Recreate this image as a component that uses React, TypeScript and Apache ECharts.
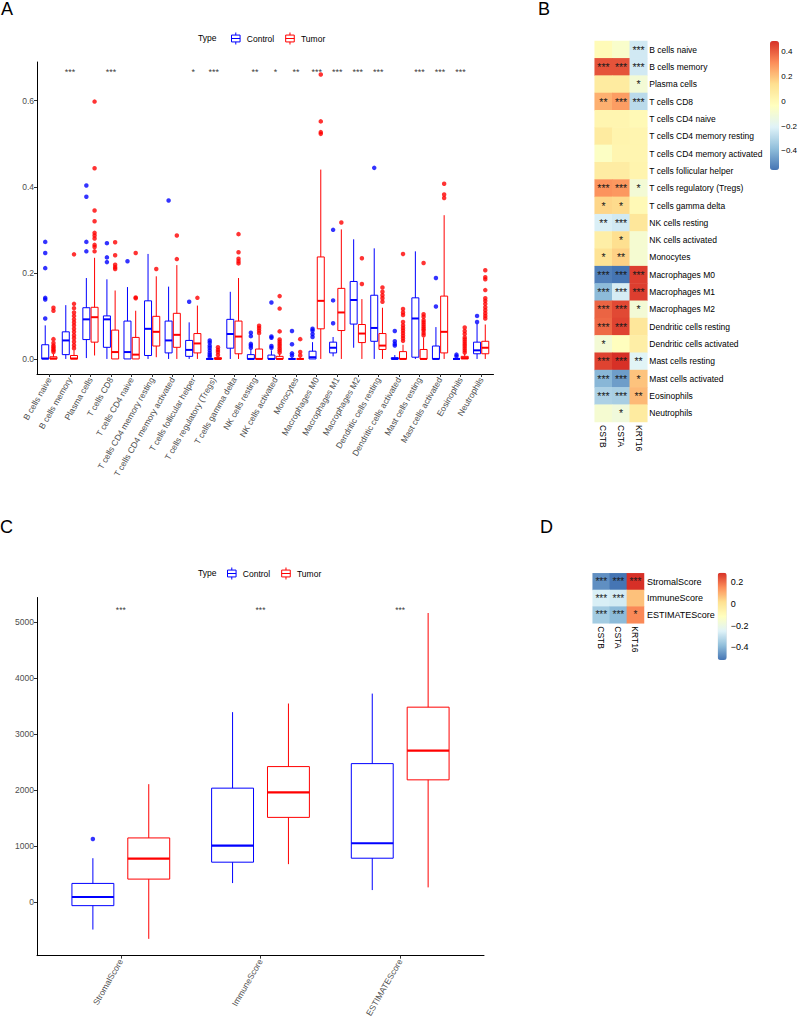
import { useEffect, useRef } from "react";
import * as echarts from "echarts";

// ---------- Panel A: immune cell fractions ----------
const cellTypes = [
  "B cells naive", "B cells memory", "Plasma cells", "T cells CD8", "T cells CD4 naive",
  "T cells CD4 memory resting", "T cells CD4 memory activated", "T cells follicular helper",
  "T cells regulatory (Tregs)", "T cells gamma delta", "NK cells resting", "NK cells activated",
  "Monocytes", "Macrophages M0", "Macrophages M1", "Macrophages M2", "Dendritic cells resting",
  "Dendritic cells activated", "Mast cells resting", "Mast cells activated", "Eosinophils", "Neutrophils",
];

// [lower whisker, Q1, median, Q3, upper whisker]
const cellControlStats = [
  [0, 0, 0.001, 0.033, 0.078],
  [0, 0.01, 0.043, 0.063, 0.125],
  [0.002, 0.045, 0.092, 0.119, 0.188],
  [0, 0.027, 0.092, 0.1, 0.185],
  [0, 0, 0.016, 0.088, 0.167],
  [0, 0.008, 0.07, 0.135, 0.244],
  [0, 0.014, 0.043, 0.088, 0.168],
  [0, 0.006, 0.021, 0.043, 0.085],
  [0, 0, 0, 0, 0],
  [0, 0.025, 0.058, 0.092, 0.156],
  [0, 0, 0, 0.01, 0.022],
  [0, 0, 0, 0.009, 0.02],
  [0, 0, 0, 0, 0.004],
  [0, 0, 0.004, 0.018, 0.039],
  [0.006, 0.014, 0.026, 0.039, 0.051],
  [0.026, 0.081, 0.137, 0.18, 0.278],
  [0, 0.041, 0.072, 0.148, 0.257],
  [0, 0, 0, 0.003, 0.009],
  [0, 0.004, 0.094, 0.142, 0.25],
  [0, 0, 0, 0.03, 0.074],
  [0, 0, 0, 0, 0.002],
  [0, 0.012, 0.02, 0.039, 0.082],
];
const cellTumorStats = [
  [0, 0, 0.001, 0.005, 0.012],
  [0, 0, 0.001, 0.008, 0.02],
  [0.008, 0.039, 0.097, 0.12, 0.235],
  [0, 0, 0.016, 0.067, 0.159],
  [0, 0, 0.01, 0.05, 0.112],
  [0.004, 0.03, 0.063, 0.099, 0.192],
  [0, 0.027, 0.056, 0.106, 0.218],
  [0, 0.014, 0.036, 0.059, 0.124],
  [0, 0, 0, 0.003, 0.006],
  [0, 0.012, 0.052, 0.088, 0.188],
  [0, 0, 0, 0.023, 0.055],
  [0, 0, 0, 0.006, 0.012],
  [0, 0, 0, 0, 0.004],
  [0, 0.07, 0.135, 0.237, 0.44],
  [0, 0.066, 0.108, 0.164, 0.301],
  [0, 0.038, 0.059, 0.08, 0.139],
  [0, 0.022, 0.031, 0.059, 0.119],
  [0, 0, 0, 0.017, 0.033],
  [0, 0, 0, 0.022, 0.05],
  [0, 0.014, 0.063, 0.146, 0.334],
  [0, 0, 0.002, 0.006, 0.012],
  [0, 0.012, 0.026, 0.041, 0.08],
];
const cellControlOutliers = [
  [0.094, 0.138, 0.142, 0.211, 0.246, 0.272],
  [],
  [0.25, 0.272, 0.377, 0.403],
  [0.225, 0.236, 0.269],
  [0.227],
  [],
  [0.368],
  [0.133],
  [0.005, 0.009, 0.014, 0.02, 0.026, 0.031, 0.038, 0.043],
  [],
  [0.026, 0.031, 0.035, 0.053, 0.061],
  [0.026, 0.03, 0.049, 0.052, 0.131],
  [0.008, 0.013, 0.034, 0.065],
  [0.051, 0.058, 0.066, 0.07],
  [0.083, 0.136, 0.3],
  [],
  [0.444],
  [0.031, 0.035, 0.041, 0.065],
  [],
  [0.122, 0.188],
  [0.006, 0.01],
  [0.086, 0.1],
];
const cellTumorOutliers = [
  [0.016, 0.02, 0.023, 0.027, 0.031, 0.037, 0.046, 0.112, 0.119],
  [0.025, 0.032, 0.04, 0.048, 0.055, 0.063, 0.07, 0.078, 0.085, 0.092, 0.1, 0.108, 0.118, 0.128, 0.243],
  [0.25, 0.26, 0.265, 0.28, 0.287, 0.293, 0.32, 0.345, 0.443, 0.598],
  [0.209, 0.213, 0.219, 0.241, 0.271],
  [0.141, 0.143, 0.246],
  [0.209],
  [0.232, 0.287],
  [0.142],
  [0.009, 0.016, 0.021, 0.027],
  [0.222, 0.227, 0.233, 0.248, 0.29],
  [0.06, 0.066, 0.072, 0.077],
  [0.015, 0.02, 0.025, 0.03, 0.035, 0.04, 0.045, 0.064, 0.117, 0.146],
  [0.008, 0.016, 0.046],
  [0.523, 0.527, 0.552, 0.661],
  [0.317],
  [0.174, 0.234],
  [0.133, 0.141, 0.148, 0.156, 0.166],
  [0.042, 0.048, 0.054, 0.06, 0.066, 0.072, 0.078, 0.086, 0.102, 0.108, 0.116, 0.244],
  [0.055, 0.06, 0.066, 0.07, 0.075, 0.08, 0.085, 0.09, 0.098, 0.104, 0.223],
  [0.374, 0.382, 0.407],
  [0.015, 0.02, 0.025, 0.03, 0.035, 0.04, 0.045, 0.05, 0.058, 0.065, 0.073],
  [0.094, 0.1, 0.106, 0.113, 0.12, 0.128, 0.135, 0.141, 0.16, 0.185, 0.19, 0.206],
];
const cellStars = [
  "", "***", "", "***", "", "", "", "*", "***", "", "**",
  "*", "**", "***", "***", "***", "***", "", "***", "***", "***", "",
];
const cellTicks = [0, 0.2, 0.4, 0.6];
const cellStarLevel = 0.666;

// ---------- Panel C: ESTIMATE scores ----------
const scoreNames = ["StromalScore", "ImmuneScore", "ESTIMATEScore"];
const scoreControlStats = [
  [-492, -65, 89, 332, 782],
  [338, 711, 1007, 2033, 3390],
  [213, 782, 1049, 2471, 3721],
];
const scoreTumorStats = [
  [-658, 409, 776, 1144, 2104],
  [676, 1511, 1956, 2418, 3544],
  [261, 2181, 2702, 3479, 5160],
];
const scoreControlOutliers = [[1126], [], []];
const scoreTumorOutliers: number[][] = [[], [], []];
const scoreStars = ["***", "***", "***"];
const scoreTicks = [0, 1000, 2000, 3000, 4000, 5000];
const scoreStarLevel = 5210;

// ---------- Panels B and D: correlation heatmaps ----------
const genes = ["CSTB", "CSTA", "KRT16"];
const cellCorr = [
  [-0.01, -0.07, -0.24],
  [0.42, 0.42, -0.24],
  [0.08, 0.08, -0.1],
  [0.24, 0.28, -0.29],
  [0.02, 0.02, 0.0],
  [0.08, 0.03, 0.02],
  [-0.05, 0.02, 0.02],
  [0.07, 0.07, 0.03],
  [0.3, 0.29, -0.1],
  [0.16, 0.15, 0.0],
  [-0.22, -0.24, 0.1],
  [0.06, 0.14, -0.09],
  [0.12, 0.17, -0.09],
  [-0.53, -0.554, 0.46],
  [-0.39, -0.23, 0.46],
  [0.39, 0.44, -0.1],
  [0.38, 0.45, 0.1],
  [-0.1, -0.03, 0.06],
  [0.45, 0.486, -0.2],
  [-0.4, -0.46, 0.2],
  [-0.32, -0.33, 0.22],
  [-0.09, -0.12, 0.08],
];
const cellCorrStars = [
  ["", "", "***"],
  ["***", "***", "***"],
  ["", "", "*"],
  ["**", "***", "***"],
  ["", "", ""],
  ["", "", ""],
  ["", "", ""],
  ["", "", ""],
  ["***", "***", "*"],
  ["*", "*", ""],
  ["**", "***", ""],
  ["", "*", ""],
  ["*", "**", ""],
  ["***", "***", "***"],
  ["***", "***", "***"],
  ["***", "***", "*"],
  ["***", "***", ""],
  ["*", "", ""],
  ["***", "***", "**"],
  ["***", "***", "*"],
  ["***", "***", "**"],
  ["", "*", ""],
];
const scoreCorr = [
  [-0.47, -0.517, 0.288],
  [-0.26, -0.27, 0.07],
  [-0.35, -0.39, 0.16],
];
const scoreCorrStars = [
  ["***", "***", "***"],
  ["***", "***", ""],
  ["***", "***", "*"],
];
const cellCorrRange = [-0.554, 0.486];
const scoreCorrRange = [-0.517, 0.288];
const cellCorrTicks = [-0.4, -0.2, 0, 0.2, 0.4];
const scoreCorrTicks = [-0.4, -0.2, 0, 0.2];

const palette = ["#4575B4", "#91BFDB", "#E0F3F8", "#FFFFBF", "#FEE090", "#FC8D59", "#D73027"];
const CONTROL = "#0000FF";
const TUMOR = "#FF0000";
const FONT = "Liberation Sans, Arial, sans-serif";
const AXIS_TEXT = "#4D4D4D";
const BOX_ICON = "path://M6,0V3M1,3H11V11H1ZM1,7H11M6,11V14";

const boxRenderer = (color: string, widthUnits: number, medianWidth: number) =>
  (_params: any, api: any) => {
    const x = api.value(0);
    const lo = api.coord([x, api.value(1)]);
    const q1 = api.coord([x, api.value(2)]);
    const md = api.coord([x, api.value(3)]);
    const q3 = api.coord([x, api.value(4)]);
    const hi = api.coord([x, api.value(5)]);
    const half = api.size([widthUnits, 0])[0] / 2;
    const cx = q1[0];
    const line = { stroke: color, lineWidth: 1 };
    return {
      type: "group",
      children: [
        { type: "line", shape: { x1: cx, y1: q3[1], x2: cx, y2: hi[1] }, style: line },
        { type: "line", shape: { x1: cx, y1: q1[1], x2: cx, y2: lo[1] }, style: line },
        {
          type: "rect",
          shape: { x: cx - half, y: q3[1], width: half * 2, height: q1[1] - q3[1] },
          style: { stroke: color, fill: "rgba(255,255,255,0)", lineWidth: 1 },
        },
        {
          type: "line",
          shape: { x1: cx - half, y1: md[1], x2: cx + half, y2: md[1] },
          style: { stroke: color, lineWidth: medianWidth },
        },
      ],
    };
  };

const boxSeries = (name: string, stats: number[][], shift: number, axis: number, color: string, w: number, mw: number) => ({
  name,
  type: "custom",
  xAxisIndex: axis,
  yAxisIndex: axis,
  renderItem: boxRenderer(color, w, mw),
  encode: { x: 0, y: [1, 2, 3, 4, 5] },
  data: stats.map((s, i) => [i + shift, ...s]),
  silent: true,
});

const outlierSeries = (name: string, outs: number[][], shift: number, axis: number, color: string, size: number) => ({
  name,
  type: "scatter",
  xAxisIndex: axis,
  yAxisIndex: axis,
  symbolSize: size,
  itemStyle: { color },
  data: outs.flatMap((list, i) => list.map((v) => [i + shift, v])),
  silent: true,
});

const starSeries = (stars: string[], level: number, axis: number, size: number) => ({
  type: "scatter",
  xAxisIndex: axis,
  yAxisIndex: axis,
  symbolSize: 0.1,
  itemStyle: { color: "rgba(0,0,0,0)" },
  label: { show: true, position: "inside", formatter: "{b}", fontSize: size, color: "#000", fontFamily: FONT },
  data: stars.map((s, i) => ({ name: s, value: [i, level] })).filter((d) => d.name !== ""),
  silent: true,
});

const minus = (v: number) => String(Math.round(v * 10) / 10).replace("-", "\u2212");

const boxXAxis = (grid: number, names: string[], fontSize: number) => ({
  type: "value",
  gridIndex: grid,
  min: -0.6,
  max: names.length - 0.4,
  axisLine: { show: true, onZero: false, lineStyle: { color: "#000", width: 1 } },
  axisTick: { show: true, length: 3, customValues: names.map((_, i) => i), lineStyle: { color: "#333" } },
  axisLabel: {
    customValues: names.map((_, i) => i),
    rotate: 60,
    fontSize,
    color: AXIS_TEXT,
    fontFamily: FONT,
    margin: 4,
    formatter: (v: number) => names[Math.round(v)] ?? "",
  },
  splitLine: { show: false },
});

const boxYAxis = (grid: number, min: number, max: number, ticks: number[], fmt: (v: number) => string) => ({
  type: "value",
  gridIndex: grid,
  min,
  max,
  axisLine: { show: true, onZero: false, lineStyle: { color: "#000", width: 1 } },
  axisTick: { show: true, length: 3, customValues: ticks, lineStyle: { color: "#333" } },
  axisLabel: { customValues: ticks, fontSize: 8.5, color: AXIS_TEXT, fontFamily: FONT, margin: 3, formatter: fmt },
  splitLine: { show: false },
});

const heatData = (m: number[][]) => m.flatMap((row, r) => row.map((v, c) => [c, r, v]));

export default function App() {
  const ref = useRef<HTMLDivElement>(null);

  useEffect(() => {
    if (!ref.current) return;
    const chart = echarts.init(ref.current, undefined, { renderer: "svg" });

    const legendData = (size: number) => [
      { name: "Control", icon: BOX_ICON, itemStyle: { color: "rgba(0,0,0,0)", borderColor: CONTROL, borderWidth: 1 } },
      { name: "Tumor", icon: BOX_ICON, itemStyle: { color: "rgba(0,0,0,0)", borderColor: TUMOR, borderWidth: 1 } },
    ].map((d) => ({ ...d, textStyle: { fontSize: size } }));

    const option: any = {
      animation: false,
      backgroundColor: "#fff",
      textStyle: { fontFamily: FONT },
      grid: [
        { left: 37, top: 62, width: 456.5, height: 312 },
        { left: 37, top: 597.5, width: 447, height: 380.5 },
        { left: 594.7, top: 41, width: 52.6, height: 381 },
        { left: 592.7, top: 573.3, width: 51.3, height: 50 },
        { left: 770, top: 41, width: 9, height: 129 },
        { left: 717.7, top: 572.7, width: 9, height: 87.3 },
      ],
      xAxis: [
        boxXAxis(0, cellTypes, 8.5),
        boxXAxis(1, scoreNames, 8.5),
        {
          type: "category", gridIndex: 2, data: genes, position: "bottom",
          axisLine: { show: false }, axisTick: { show: false },
          axisLabel: { rotate: -90, margin: 3, fontSize: 8.5, color: "#000", fontFamily: FONT },
        },
        {
          type: "category", gridIndex: 3, data: genes, position: "bottom",
          axisLine: { show: false }, axisTick: { show: false },
          axisLabel: { rotate: -90, margin: 3, fontSize: 8.5, color: "#000", fontFamily: FONT },
        },
        { type: "value", gridIndex: 4, show: false, min: 0, max: 1 },
        { type: "value", gridIndex: 5, show: false, min: 0, max: 1 },
      ],
      yAxis: [
        boxYAxis(0, -0.035, 0.69, cellTicks, (v) => v.toFixed(1)),
        boxYAxis(1, -958, 5437, scoreTicks, (v) => String(v)),
        {
          type: "category", gridIndex: 2, data: cellTypes, inverse: true, position: "right",
          axisLine: { show: false }, axisTick: { show: false },
          axisLabel: { margin: 2, fontSize: 8.5, color: "#000", fontFamily: FONT },
        },
        {
          type: "category", gridIndex: 3, data: scoreNames, inverse: true, position: "right",
          axisLine: { show: false }, axisTick: { show: false },
          axisLabel: { margin: 3, fontSize: 9, color: "#000", fontFamily: FONT },
        },
        {
          type: "value", gridIndex: 4, min: cellCorrRange[0], max: cellCorrRange[1], position: "right",
          axisLine: { show: false }, axisTick: { show: false }, splitLine: { show: false },
          axisLabel: { customValues: cellCorrTicks, margin: 4, fontSize: 8, color: "#000", fontFamily: FONT, formatter: minus },
        },
        {
          type: "value", gridIndex: 5, min: scoreCorrRange[0], max: scoreCorrRange[1], position: "right",
          axisLine: { show: false }, axisTick: { show: false }, splitLine: { show: false },
          axisLabel: { customValues: scoreCorrTicks, margin: 4, fontSize: 9, color: "#000", fontFamily: FONT, formatter: minus },
        },
      ],
      legend: [
        {
          left: 231, top: 32, padding: 0, itemWidth: 12, itemHeight: 12, itemGap: 11,
          selectedMode: false, textStyle: { fontSize: 8.5, color: "#000", fontFamily: FONT },
          data: legendData(8.5),
        },
        {
          left: 227, top: 567, padding: 0, itemWidth: 12, itemHeight: 12, itemGap: 11,
          selectedMode: false, textStyle: { fontSize: 8.5, color: "#000", fontFamily: FONT },
          data: legendData(8.5),
        },
      ],
      visualMap: [
        {
          type: "continuous", seriesIndex: 10, min: cellCorrRange[0], max: cellCorrRange[1],
          inRange: { color: palette }, left: 770, top: 41, itemWidth: 9, itemHeight: 129,
          calculable: false, padding: 0, orient: "vertical", showLabel: false, hoverLink: false,
        },
        {
          type: "continuous", seriesIndex: 11, min: scoreCorrRange[0], max: scoreCorrRange[1],
          inRange: { color: palette }, left: 717.7, top: 572.7, itemWidth: 9, itemHeight: 87.3,
          calculable: false, padding: 0, orient: "vertical", showLabel: false, hoverLink: false,
        },
      ],
      series: [
        boxSeries("Control", cellControlStats, -0.2, 0, CONTROL, 0.34, 2),
        boxSeries("Tumor", cellTumorStats, 0.2, 0, TUMOR, 0.34, 2),
        outlierSeries("Control", cellControlOutliers, -0.2, 0, CONTROL, 4.5),
        outlierSeries("Tumor", cellTumorOutliers, 0.2, 0, TUMOR, 4.5),
        starSeries(cellStars, cellStarLevel, 0, 9),
        boxSeries("Control", scoreControlStats, -0.2, 1, CONTROL, 0.3, 2.2),
        boxSeries("Tumor", scoreTumorStats, 0.2, 1, TUMOR, 0.3, 2.2),
        outlierSeries("Control", scoreControlOutliers, -0.2, 1, CONTROL, 4.5),
        outlierSeries("Tumor", scoreTumorOutliers, 0.2, 1, TUMOR, 4.5),
        starSeries(scoreStars, scoreStarLevel, 1, 8.5),
        {
          type: "heatmap", xAxisIndex: 2, yAxisIndex: 2, data: heatData(cellCorr), silent: true,
          label: {
            show: true, fontSize: 10.5, color: "#1a1a1a", fontFamily: FONT,
            formatter: (p: any) => cellCorrStars[p.data[1]][p.data[0]],
          },
        },
        {
          type: "heatmap", xAxisIndex: 3, yAxisIndex: 3, data: heatData(scoreCorr), silent: true,
          label: {
            show: true, fontSize: 10, color: "#1a1a1a", fontFamily: FONT,
            formatter: (p: any) => scoreCorrStars[p.data[1]][p.data[0]],
          },
        },
      ],
      graphic: [
        { type: "text", left: 1, top: 0, style: { text: "A", fontSize: 18, fill: "#000", fontFamily: FONT } },
        { type: "text", left: 538, top: 0, style: { text: "B", fontSize: 18, fill: "#000", fontFamily: FONT } },
        { type: "text", left: 0, top: 518, style: { text: "C", fontSize: 18, fill: "#000", fontFamily: FONT } },
        { type: "text", left: 540, top: 518, style: { text: "D", fontSize: 18, fill: "#000", fontFamily: FONT } },
        { type: "text", left: 198, top: 33, style: { text: "Type", fontSize: 8.5, fill: "#000", fontFamily: FONT } },
        { type: "text", left: 198, top: 568, style: { text: "Type", fontSize: 8.5, fill: "#000", fontFamily: FONT } },
      ],
    };

    chart.setOption(option);
    return () => chart.dispose();
  }, []);

  return <div ref={ref} style={{ position: "absolute", left: 0, top: 0, width: 800, height: 1020 }} />;
}
